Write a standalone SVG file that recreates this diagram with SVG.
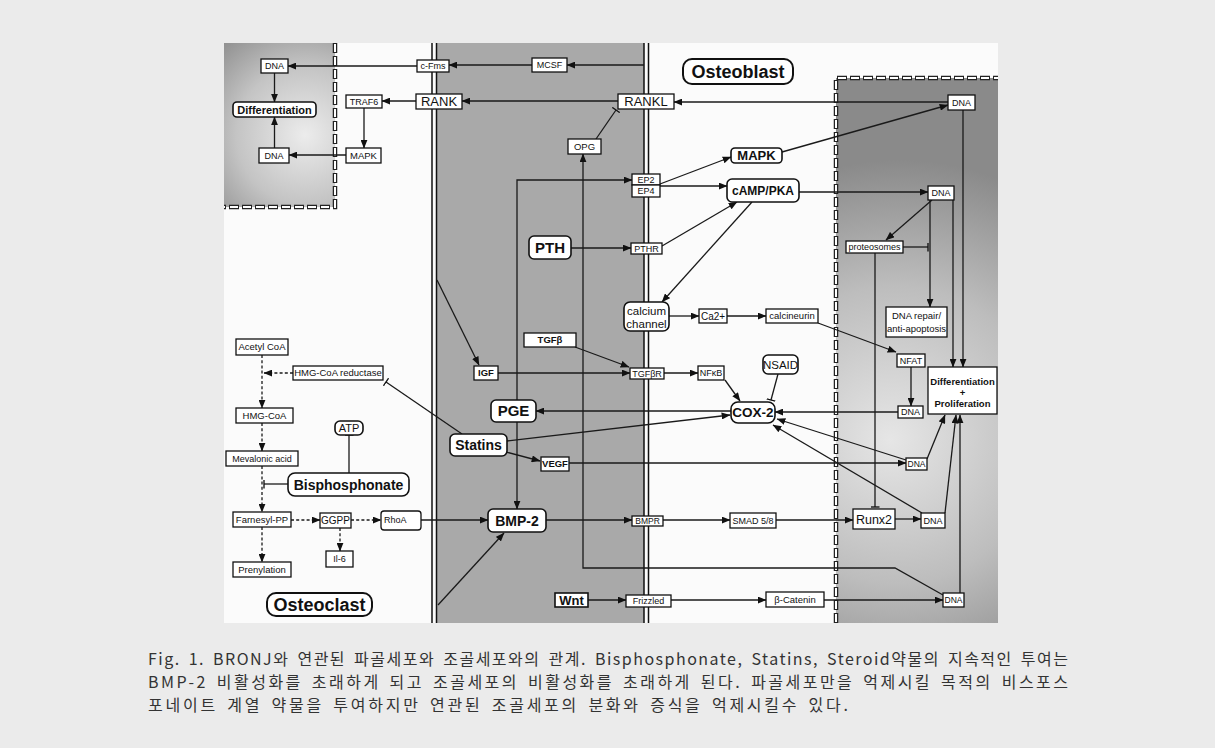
<svg xmlns="http://www.w3.org/2000/svg" width="1215" height="748" viewBox="0 0 1215 748">
<defs>
<radialGradient id="gl" gradientUnits="userSpaceOnUse" cx="305" cy="135" r="125">
<stop offset="0" stop-color="#ececec"/><stop offset="0.55" stop-color="#c4c4c4"/><stop offset="1" stop-color="#8e8e8e"/>
</radialGradient>
<radialGradient id="gr" gradientUnits="userSpaceOnUse" cx="900" cy="430" r="270" fx="890" fy="440">
<stop offset="0" stop-color="#e6e6e6"/><stop offset="0.55" stop-color="#bdbdbd"/><stop offset="1" stop-color="#8a8a8a"/>
</radialGradient>
<marker id="ar" viewBox="0 0 10 8" refX="9.5" refY="4" markerWidth="9" markerHeight="7" markerUnits="userSpaceOnUse" orient="auto"><path d="M0,0 L10,4 L0,8 z" fill="#111"/></marker>
<marker id="tb" viewBox="0 0 2 10" refX="1" refY="5" markerWidth="2" markerHeight="9" markerUnits="userSpaceOnUse" orient="auto"><path d="M1,0 V10" stroke="#111" stroke-width="1.5"/></marker>
</defs>
<style>
.n rect{fill:#fff;stroke:#111;stroke-width:1.3}
.r rect{stroke-width:1.6}
text{font-family:"Liberation Sans",Arial,sans-serif;fill:#111;text-anchor:middle}
.b{font-weight:bold}
#connectors path{fill:none;stroke:#1a1a1a;stroke-width:1.3}
#connectors .a{marker-end:url(#ar)}
#connectors .t{marker-end:url(#tb)}
#connectors .d{stroke-dasharray:3 2.2}
.cap{font-family:"Noto Sans CJK KR","Liberation Sans",sans-serif;font-size:16px;fill:#333;text-anchor:start}
.mem{stroke:#111;stroke-width:1.5}
</style>
<rect width="1215" height="748" fill="#ebebeb"/>
<rect x="224" y="43" width="774" height="580" fill="#fbfbfb"/>
<rect x="437" y="43" width="207" height="580" fill="#a9a9a9"/>
<rect x="224" y="43" width="111" height="164" fill="url(#gl)"/>
<rect x="836" y="78" width="162" height="545" fill="url(#gr)"/>
<g id="membranes">
<line class="mem" x1="432" y1="43" x2="432" y2="623"/>
<line class="mem" x1="436.5" y1="43" x2="436.5" y2="623"/>
<line class="mem" x1="644" y1="43" x2="644" y2="623"/>
<line class="mem" x1="648.5" y1="43" x2="648.5" y2="623"/>
<path d="M335,43 V207 H224" fill="none" stroke="#222" stroke-width="4.5" stroke-dasharray="10 3"/>
<path d="M335,43 V207 H224" fill="none" stroke="#fff" stroke-width="2" stroke-dasharray="8 5" stroke-dashoffset="-1"/>
<path d="M836,623 V78 H998" fill="none" stroke="#222" stroke-width="4.5" stroke-dasharray="10 3"/>
<path d="M836,623 V78 H998" fill="none" stroke="#fff" stroke-width="2" stroke-dasharray="8 5" stroke-dashoffset="-1"/>
</g>
<g id="connectors">
<path class="a" d="M417,66 H288"/>
<path class="a" d="M532,65 H449"/>
<path class="a" d="M644,65 H567"/>
<path class="a" d="M416,101 H382"/>
<path class="a" d="M618,101 H462"/>
<path class="a" d="M948,102 H674"/>
<path class="a" d="M364,108 V148"/>
<path class="a" d="M346,155 H289"/>
<path class="a" d="M274.5,73 V102"/>
<path class="a" d="M274.5,148 V117"/>
<path class="t" d="M596,139 L616,110"/>
<path class="a" d="M943,595 L895,568 H583 V154"/>
<path class="a" d="M517,400 V180 H632"/>
<path class="a" d="M517,422 V509"/>
<path class="a" d="M660,184 L731,157"/>
<path class="a" d="M660,186 L727,186"/>
<path class="a" d="M782,152 L948,105"/>
<path class="a" d="M799,192 H928"/>
<path class="a" d="M662,246 L737,202"/>
<path class="a" d="M752,202 L662,302"/>
<path class="a" d="M571,248 H631"/>
<path class="a" d="M669,316 H699"/>
<path class="a" d="M727,316 H766"/>
<path class="a" d="M818,323 L896,352"/>
<path class="a" d="M932,200 L886,240"/>
<path class="a" d="M930,200 V307"/>
<path class="t" d="M903,247 H928"/>
<path class="a" d="M963,110 V367"/>
<path class="a" d="M953,200 V367"/>
<path class="t" d="M875,253 V507"/>
<path class="a" d="M911,367 V406"/>
<path class="a" d="M898,412 H775"/>
<path class="a" d="M731,411 H536"/>
<path class="a" d="M437,280 L479,365"/>
<path class="a" d="M498,373 H630"/>
<path class="a" d="M575,347 L629,367"/>
<path class="a" d="M664,373 H698"/>
<path class="a" d="M725,380 L740,401"/>
<path class="t" d="M778,374 L771,400"/>
<path class="t" d="M462,434 L386,382"/>
<path class="a" d="M507,441 L730,415"/>
<path class="a" d="M506,452 L540,461"/>
<path class="a" d="M569,463 H906"/>
<path class="a" d="M906,460 L777,419"/>
<path class="a" d="M927,459 L945,415"/>
<path class="a" d="M922,513 L773,425"/>
<path class="a" d="M945,513 L956,415"/>
<path class="a" d="M960,593 V415"/>
<path class="a" d="M895,519 H921"/>
<path class="a" d="M776,520 H853"/>
<path class="a" d="M663,520 H730"/>
<path class="a" d="M546,520 H632"/>
<path class="a" d="M421,520 H488"/>
<path class="a" d="M438,605 L504,533"/>
<path class="a" d="M588,600 H626"/>
<path class="a" d="M671,600 H766"/>
<path class="a" d="M824,600 H943"/>
<path class="a d" d="M262,355 V408"/>
<path class="a d" d="M293,373 H264"/>
<path class="a d" d="M262,423 V451"/>
<path class="a d" d="M262,466 V512"/>
<path class="t" d="M288,484 H264"/>
<path class="t" d="M349,473 V435"/>
<path class="a d" d="M291,520 H320"/>
<path class="a d" d="M351,520 H381"/>
<path class="a d" d="M340,528 V551"/>
<path class="a d" d="M262,527 V562"/>
</g>
<g id="dna1" class="n"><rect x="261" y="59" width="27" height="14"/><text x="274.5" y="69.2" font-size="9">DNA</text></g>
<g id="diff1" class="n r"><rect x="233" y="102" width="83" height="15" rx="4"/><text class="b" x="274.5" y="113.5" font-size="11">Differentiation</text></g>
<g id="dna2" class="n"><rect x="259" y="148" width="30" height="15"/><text x="274" y="158.7" font-size="9">DNA</text></g>
<g id="traf6" class="n"><rect x="346" y="95" width="36" height="13"/><text x="364" y="104.7" font-size="9">TRAF6</text></g>
<g id="mapk-oc" class="n"><rect x="346" y="148" width="35" height="15"/><text x="363.5" y="159" font-size="9.5">MAPK</text></g>
<g id="cfms" class="n"><rect x="417" y="60" width="32" height="12"/><text x="433" y="69.2" font-size="9">c-Fms</text></g>
<g id="rank" class="n"><rect x="416" y="94" width="46" height="15"/><text x="439" y="106.2" font-size="13">RANK</text></g>
<g id="mcsf" class="n"><rect x="532" y="58" width="35" height="14"/><text x="549.5" y="68.2" font-size="9">MCSF</text></g>
<g id="rankl" class="n"><rect x="618" y="94" width="56" height="15"/><text x="646" y="106.2" font-size="13">RANKL</text></g>
<g id="opg" class="n"><rect x="568" y="139" width="33" height="15"/><text x="584.5" y="149.9" font-size="9.5">OPG</text></g>
<g id="osteoblast" class="n r"><rect x="683" y="59" width="110" height="25" rx="9" style="stroke-width:2"/><text class="b" x="738" y="78" font-size="18">Osteoblast</text></g>
<g id="dna3" class="n"><rect x="948" y="95" width="27" height="15"/><text x="961.5" y="105.7" font-size="9">DNA</text></g>
<g id="mapk-ob" class="n r"><rect x="731" y="148" width="51" height="15" rx="4"/><text class="b" x="756.5" y="160.2" font-size="13">MAPK</text></g>
<g id="ep2" class="n"><rect x="632" y="174" width="28" height="11"/><text x="646" y="182.7" font-size="9">EP2</text></g>
<g id="ep4" class="n"><rect x="632" y="185" width="28" height="12"/><text x="646" y="194.2" font-size="9">EP4</text></g>
<g id="camp" class="n r"><rect x="727" y="179" width="72" height="23" rx="5"/><text class="b" x="763" y="194.8" font-size="12">cAMP/PKA</text></g>
<g id="dna4" class="n"><rect x="928" y="186" width="26" height="14"/><text x="941" y="196.2" font-size="9">DNA</text></g>
<g id="pth" class="n r"><rect x="529" y="236" width="42" height="23" rx="5"/><text class="b" x="550" y="252.9" font-size="15">PTH</text></g>
<g id="pthr" class="n"><rect x="631" y="243" width="31" height="11"/><text x="646.5" y="251.7" font-size="9">PTHR</text></g>
<g id="proteosomes" class="n"><rect x="846" y="241" width="57" height="12"/><text x="874.5" y="250.2" font-size="9">proteosomes</text></g>
<g id="dnarepair" class="n"><rect x="886" y="307" width="61" height="30"/><text x="916.5" y="318.5" font-size="9.5">DNA repair/</text><text x="916.5" y="331.5" font-size="9.5">anti-apoptosis</text></g>
<g id="calcium" class="n r"><rect x="624" y="302" width="45" height="29" rx="6"/><text x="646.5" y="315" font-size="11.5">calcium</text><text x="646.5" y="327.5" font-size="11.5">channel</text></g>
<g id="ca2" class="n"><rect x="699" y="309" width="28" height="14"/><text x="713" y="319.6" font-size="10">Ca2+</text></g>
<g id="calcineurin" class="n"><rect x="766" y="309" width="52" height="14"/><text x="792" y="319.4" font-size="9.5">calcineurin</text></g>
<g id="tgfb" class="n"><rect x="524" y="333" width="52" height="14"/><text class="b" x="550" y="343.4" font-size="9.5">TGFβ</text></g>
<g id="nfat" class="n"><rect x="897" y="354" width="28" height="13"/><text x="911" y="363.7" font-size="9">NFAT</text></g>
<g id="acetylcoa" class="n"><rect x="236" y="339" width="52" height="16"/><text x="262" y="350.4" font-size="9.5">Acetyl CoA</text></g>
<g id="hmgred" class="n"><rect x="293" y="366" width="90" height="14"/><text x="338" y="376.4" font-size="9.5">HMG-CoA reductase</text></g>
<g id="igf" class="n"><rect x="474" y="366" width="24" height="14"/><text class="b" x="486" y="376.4" font-size="9.5">IGF</text></g>
<g id="tgfbr" class="n"><rect x="630" y="368" width="34" height="11"/><text x="647" y="376.7" font-size="9">TGFβR</text></g>
<g id="nfkb" class="n"><rect x="698" y="366" width="26" height="14"/><text x="711" y="376.2" font-size="9">NFκB</text></g>
<g id="nsaid" class="n r"><rect x="763" y="355" width="35" height="19" rx="5"/><text x="780.5" y="368.6" font-size="11.5">NSAID</text></g>
<g id="diffprolif" class="n"><rect x="928" y="367" width="69" height="47"/><text class="b" x="962.5" y="385" font-size="9.5">Differentiation</text><text class="b" x="962.5" y="395.7" font-size="9.5">+</text><text class="b" x="962.5" y="406.7" font-size="9.5">Proliferation</text></g>
<g id="pge" class="n r"><rect x="491" y="400" width="45" height="22" rx="5"/><text class="b" x="513.5" y="416.4" font-size="15">PGE</text></g>
<g id="cox2" class="n r"><rect x="731" y="402" width="44" height="21" rx="7"/><text class="b" x="753" y="417.4" font-size="13.5">COX-2</text></g>
<g id="dna5" class="n"><rect x="898" y="406" width="25" height="12"/><text x="910.5" y="415.2" font-size="9">DNA</text></g>
<g id="hmgcoa" class="n"><rect x="236" y="408" width="57" height="15"/><text x="264.5" y="418.9" font-size="9.5">HMG-CoA</text></g>
<g id="atp" class="n r"><rect x="335" y="421" width="28" height="14" rx="5"/><text x="349" y="432" font-size="11">ATP</text></g>
<g id="statins" class="n r"><rect x="450" y="434" width="57" height="22" rx="5"/><text class="b" x="478.5" y="450" font-size="14">Statins</text></g>
<g id="mevalonic" class="n"><rect x="226" y="451" width="72" height="15"/><text x="262" y="461.7" font-size="9">Mevalonic acid</text></g>
<g id="vegf" class="n"><rect x="541" y="457" width="28" height="14"/><text class="b" x="555" y="467.4" font-size="9.5">VEGF</text></g>
<g id="dna6" class="n"><rect x="906" y="458" width="21" height="12"/><text x="916.5" y="467" font-size="8.5">DNA</text></g>
<g id="bisphosphonate" class="n r"><rect x="288" y="473" width="121" height="23" rx="7"/><text class="b" x="348.5" y="489.5" font-size="14">Bisphosphonate</text></g>
<g id="farnesyl" class="n"><rect x="233" y="512" width="58" height="15"/><text x="262" y="522.9" font-size="9.5">Farnesyl-PP</text></g>
<g id="ggpp" class="n"><rect x="320" y="513" width="31" height="15"/><text x="335.5" y="524.1" font-size="10">GGPP</text></g>
<g id="rhoa" class="n"><rect x="381" y="511" width="40" height="19" rx="3"/><text x="384" y="522.5" font-size="9" style="text-anchor:start">RhoA</text></g>
<g id="bmp2" class="n r"><rect x="488" y="509" width="58" height="23" rx="5"/><text class="b" x="517" y="525.5" font-size="14">BMP-2</text></g>
<g id="bmpr" class="n"><rect x="632" y="516" width="31" height="10"/><text x="647.5" y="524" font-size="8.5">BMPR</text></g>
<g id="smad" class="n"><rect x="730" y="513" width="46" height="15"/><text x="753" y="523.7" font-size="9">SMAD 5/8</text></g>
<g id="runx2" class="n"><rect x="853" y="509" width="42" height="20"/><text x="874" y="523.5" font-size="12.5">Runx2</text></g>
<g id="dna7" class="n"><rect x="921" y="513" width="24" height="15"/><text x="933" y="523.7" font-size="9">DNA</text></g>
<g id="il6" class="n"><rect x="326" y="551" width="27" height="16"/><text x="339.5" y="562.2" font-size="9">Il-6</text></g>
<g id="prenylation" class="n"><rect x="233" y="562" width="58" height="15"/><text x="262" y="572.9" font-size="9.5">Prenylation</text></g>
<g id="osteoclast" class="n r"><rect x="267" y="593" width="105" height="23" rx="9" style="stroke-width:2"/><text class="b" x="319.5" y="611" font-size="18">Osteoclast</text></g>
<g id="wnt" class="n r"><rect x="555" y="593" width="33" height="14"/><text class="b" x="571.5" y="604.7" font-size="13">Wnt</text></g>
<g id="frizzled" class="n"><rect x="626" y="595" width="45" height="12"/><text x="648.5" y="604.2" font-size="9">Frizzled</text></g>
<g id="bcatenin" class="n"><rect x="766" y="592" width="58" height="15"/><text x="795" y="602.9" font-size="9.5">β-Catenin</text></g>
<g id="dna8" class="n"><rect x="943" y="593" width="21" height="14"/><text x="953.5" y="603" font-size="8.5">DNA</text></g>
<g id="caption">
<text class="cap" x="148" y="665" textLength="920" lengthAdjust="spacing" word-spacing="3">Fig. 1. BRONJ와 연관된 파골세포와 조골세포와의 관계. Bisphosphonate, Statins, Steroid약물의 지속적인 투여는</text>
<text class="cap" x="148" y="688" textLength="920" lengthAdjust="spacing" word-spacing="3">BMP-2 비활성화를 초래하게 되고 조골세포의 비활성화를 초래하게 된다. 파골세포만을 억제시킬 목적의 비스포스</text>
<text class="cap" x="148" y="711" textLength="700" lengthAdjust="spacing" word-spacing="3">포네이트 계열 약물을 투여하지만 연관된 조골세포의 분화와 증식을 억제시킬수 있다.</text>
</g>
</svg>
